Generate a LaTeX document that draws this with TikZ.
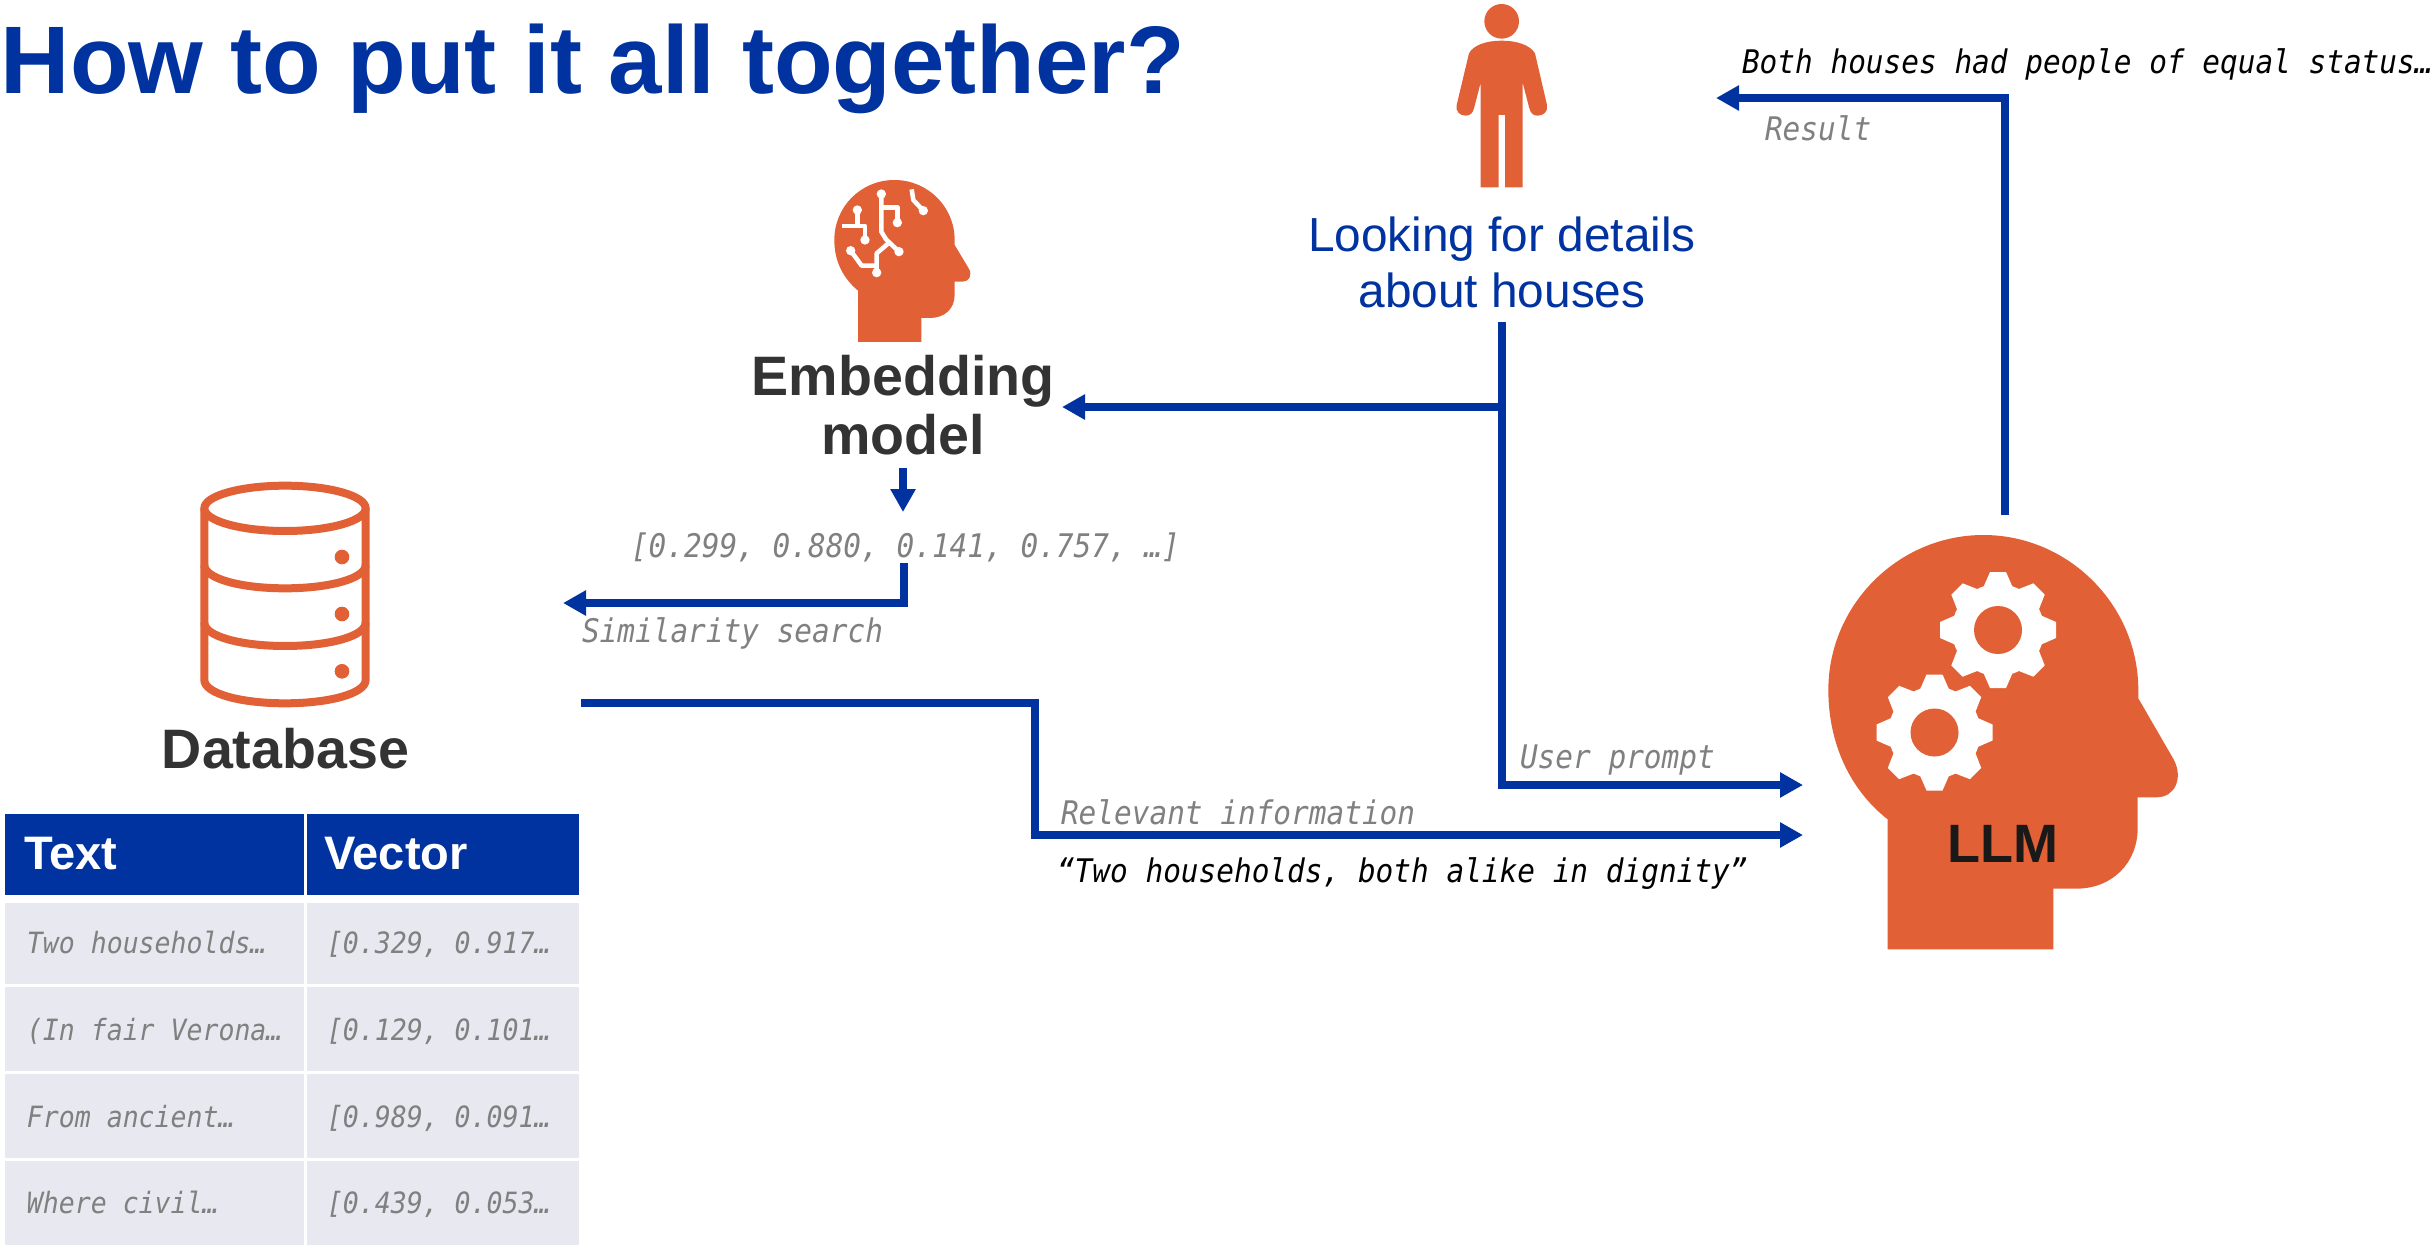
\documentclass[tikz,border=0pt]{standalone}
\usepackage{fontspec}
\setmainfont{Liberation Sans}
\newfontfamily\monoface[FakeStretch=0.905]{DejaVu Sans Mono}
\usetikzlibrary{arrows.meta}
\definecolor{brandblue}{HTML}{0033A0}
\definecolor{iconorange}{HTML}{E26035}
\definecolor{rowgrey}{HTML}{E8E9F0}
\definecolor{labelgrey}{HTML}{808080}
\definecolor{darktext}{HTML}{333333}
\newcommand{\sized}[1]{\fontsize{#1}{#1}\selectfont}
\newcommand{\gearat}[2]{%
  \begin{scope}[shift={(#1,#2)}]
    \fill[white] (0,0) circle[radius=46];
    \foreach \a in {0,45,...,315}{
      \fill[white,rotate=\a] (42,-15) -- (58,-8) -- (58,8) -- (42,15) -- cycle;
    }
    \fill[iconorange] (0,0) circle[radius=24];
  \end{scope}}
\tikzset{
  conn/.style={draw=brandblue,line width=7.8pt,line join=miter,line cap=butt,-{Triangle[length=23pt,width=24pt]}},
  iconbox/.style={inner sep=0pt,outer sep=0pt,minimum width=0pt,minimum height=0pt},
  circuit/.style={draw=white,line width=4.5pt,line join=round},
  disk/.style={draw=iconorange,line width=8pt},
  lbl/.style={anchor=base west,inner sep=0pt,outer sep=0pt,text=labelgrey,font=\monoface\itshape\sized{32.5}},
  quote/.style={anchor=base west,inner sep=0pt,outer sep=0pt,text=black,font=\monoface\itshape\sized{32.5}},
  cell/.style={anchor=base west,inner sep=0pt,outer sep=0pt,text=labelgrey,font=\monoface\itshape\sized{29.3}},
  head/.style={anchor=base west,inner sep=0pt,outer sep=0pt,text=white,font=\bfseries\sized{47}},
  title/.style={anchor=base west,inner sep=0pt,outer sep=0pt,text=brandblue,font=\bfseries\sized{96}},
  iconname/.style={inner sep=0pt,outer sep=0pt,text=darktext,font=\bfseries\sized{55.6}},
}
\begin{document}
\begin{tikzpicture}[x=1pt,y=-1pt]
\useasboundingbox (0,0) rectangle (2435,1245);
\fill[white] (0,0) rectangle (2435,1245);

\node[title] (title) at (1,93) {How to put it all together?};

% person icon
\node[iconbox,minimum width=91pt,minimum height=183pt] (person) at (1502,95) {};
\begin{scope}[shift={(1420,0)},x=0.3333pt,y=-0.3333pt]
  \fill[iconorange] (245,64) circle[radius=52];
  \fill[iconorange] (245,122) .. controls (290,122) and (330,135) .. (345,160)
    -- (381,315) .. controls (385,335) and (370,347) .. (353,347)
    .. controls (340,347) and (332,340) .. (328,325)
    -- (308,248) -- (308,562) -- (255,562) -- (255,345) -- (236,345) -- (236,562)
    -- (182,562) -- (182,248) -- (162,325)
    .. controls (158,340) and (150,347) .. (137,347)
    .. controls (120,347) and (106,335) .. (110,315)
    -- (147,160) .. controls (160,135) and (200,122) .. (245,122) -- cycle;
\end{scope}

\node[inner sep=0pt,outer sep=0pt,align=center,text=brandblue,font=\sized{47.8}] (looking) at (1502,267)
  {\begin{tabular}{@{}c@{}}\rule{0pt}{40pt}Looking for details\\[7pt]about houses\end{tabular}};

% embedding head icon
\node[iconbox,minimum width=137pt,minimum height=163pt] (embedicon) at (903,260) {};
\begin{scope}[shift={(780,150)},x=0.3333pt,y=-0.3333pt]
  \fill[iconorange] (234,576) -- (424,576) -- (424,504) -- (450,504)
    .. controls (495,504) and (524,475) .. (524,435) -- (524,395) -- (548,395)
    .. controls (568,395) and (578,375) .. (566,355) -- (524,285) -- (524,270)
    .. controls (524,170) and (443,90) .. (343,90)
    .. controls (243,90) and (163,170) .. (163,270)
    .. controls (163,335) and (190,385) .. (234,422) -- cycle;
  \draw[circuit] (304,132) -- (304,245) -- (318,268) -- (357,305);
  \draw[circuit] (304,172) -- (352,172) -- (352,218);
  \draw[circuit] (325,280) -- (290,310) -- (290,368);
  \draw[circuit] (212,302) -- (245,347) -- (290,347);
  \draw[circuit] (232,180) -- (232,228);
  \draw[circuit] (187,228) -- (255,228) -- (255,270);
  \draw[circuit] (395,118) -- (400,150) -- (430,182);
  \foreach \cx/\cy in {304/132,352/218,357/305,290/368,212/302,232/180,255/270,430/182}{
    \fill[white] (\cx,\cy) circle[radius=14];
  }
\end{scope}

\node[iconname] (embedding) at (903,413.5) {\begin{tabular}{@{}c@{}}\rule{0pt}{40pt}Embedding\\[2pt]model\end{tabular}};

% database icon
\node[iconbox,minimum width=170pt,minimum height=228pt] (dbicon) at (284,594) {};
\begin{scope}[shift={(180,470)},x=0.3333pt,y=-0.3333pt]
  \draw[disk] (315,115) ellipse[x radius=242,y radius=68];
  \draw[disk] (73,115) -- (73,630) .. controls (73,670) and (180,700) .. (315,700)
     .. controls (450,700) and (557,670) .. (557,630) -- (557,115);
  \draw[disk] (73,285) .. controls (73,325) and (180,355) .. (315,355)
     .. controls (450,355) and (557,325) .. (557,285);
  \draw[disk] (73,458) .. controls (73,498) and (180,528) .. (315,528)
     .. controls (450,528) and (557,498) .. (557,458);
  \foreach \cy in {261,432,604}{\fill[iconorange] (486,\cy) circle[radius=22];}
\end{scope}
\node[iconname,anchor=base] (database) at (285.5,768) {Database};

% llm head icon
\node[iconbox,minimum width=350pt,minimum height=415pt] (llm) at (2003,742) {};
\begin{scope}[shift={(1800,520)},x=0.3333pt,y=-0.3333pt]
  \fill[iconorange] (263,1288) -- (760,1288) -- (760,1106) -- (830,1106)
    .. controls (935,1106) and (1013,1030) .. (1013,925) -- (1013,832) -- (1070,832)
    .. controls (1125,832) and (1150,775) .. (1122,720) -- (1015,535) -- (1015,510)
    .. controls (1015,255) and (805,45) .. (550,45)
    .. controls (295,45) and (85,255) .. (85,510)
    .. controls (85,670) and (150,810) .. (263,898) -- cycle;
\end{scope}
\gearat{1998}{630}
\gearat{1934.5}{732.5}
\node[anchor=base,inner sep=0pt,outer sep=0pt,text=black!90,font=\bfseries\sized{54}] (llmname) at (2003,862) {LLM};

% table
\fill[brandblue] (5,813.5) rectangle (304,895);
\fill[brandblue] (307,813.5) rectangle (579,895);
\foreach \ya/\yb in {903/984,987/1071,1074/1158,1161/1245}{
  \fill[rowgrey] (5,\ya) rectangle (304,\yb);
  \fill[rowgrey] (307,\ya) rectangle (579,\yb);
}
\node[head] (th1) at (24,869) {Text};
\node[head] (th2) at (324,869) {Vector};
\node[cell] (c11) at (27,953) {Two households…};
\node[cell] (c12) at (327,953) {[0.329, 0.917…};
\node[cell] (c21) at (27,1040) {(In fair Verona…};
\node[cell] (c22) at (327,1040) {[0.129, 0.101…};
\node[cell] (c31) at (27,1127) {From ancient…};
\node[cell] (c32) at (327,1127) {[0.989, 0.091…};
\node[cell] (c41) at (27,1213) {Where civil…};
\node[cell] (c42) at (327,1213) {[0.439, 0.053…};

% labels
\node[quote] (answer) at (1742,73) {Both houses had people of equal status…};
\node[lbl] (result) at (1765,140) {Result};
\node[lbl] (vec) at (631,557) {[0.299, 0.880, 0.141, 0.757, …]};
\node[lbl] (sim) at (582,642) {Similarity search};
\node[lbl] (prompt) at (1520,768) {User prompt};
\node[lbl] (rel) at (1061,824) {Relevant information};
\node[quote] (quoted) at (1057,882) {“Two households, both alike in dignity”};

% connectors
\coordinate (junction) at (1502,407);
\coordinate (embedin) at (1062,407);
\coordinate (embedout) at (903,468);
\coordinate (vecin) at (903,512);
\coordinate (vecout) at (904,563);
\coordinate (simtip) at (563,603);
\coordinate (relstart) at (581,703);
\coordinate (relbend) at (1035,835);
\coordinate (prompttip) at (1803,785);
\coordinate (reltip) at (1803,835);
\coordinate (resultstart) at (2005,515);
\coordinate (resulttip) at (1716,98);

\draw[conn] (looking.south) -- (junction) -- (embedin);
\draw[conn] (junction) |- (prompttip);
\draw[conn] (embedout) -- (vecin);
\draw[conn] (vecout) |- (simtip);
\draw[conn] (relstart) -| (relbend) -- (reltip);
\draw[conn] (resultstart) |- (resulttip);
\end{tikzpicture}
\end{document}
